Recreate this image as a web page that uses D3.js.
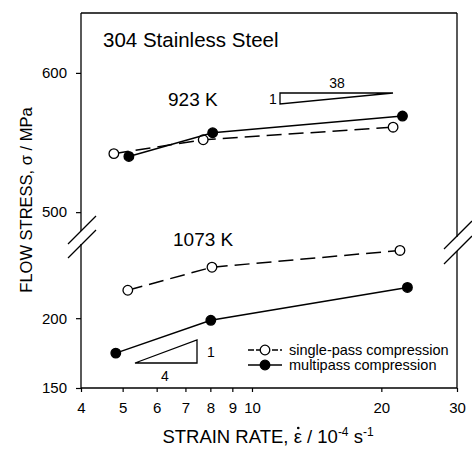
<!DOCTYPE html>
<html><head><meta charset="utf-8">
<script src="https://cdn.jsdelivr.net/npm/d3@7"></script>
<style>body{margin:0;background:#fff}svg{display:block}text{font-family:"Liberation Sans",Arial,sans-serif;fill:#000}</style>
</head><body>
<script>
// Data
const strainRate923Single = [4.77, 7.7, 21.3];
const stress923Single = [542, 552, 561];
const strainRate923Multi = [5.17, 8.1, 22.4];
const stress923Multi = [540, 557, 569];
const strainRate1073Single = [5.14, 8.07, 22.1];
const stress1073Single = [220, 236.5, 248.5];
const strainRate1073Multi = [4.82, 8.02, 23.0];
const stress1073Multi = [175, 198.5, 222];
const xTicks = [4, 5, 6, 7, 8, 9, 10, 20, 30];
const xTickLabels = ["4", "5", "6", "7", "8", "9", "10", "20", "30"];
const yTicks = [150, 200, 500, 600];
const legendLabels = ["single-pass compression", "multipass compression"];

const W = 472, H = 454;
const L = 81, R = 457, T = 13, B = 388, BRK = 240;
const FONT = '"Liberation Sans",Arial,sans-serif';
const svg = d3.select("body").append("svg").attr("width", W).attr("height", H);

const x = d3.scaleLog().domain([4, 30]).range([L, R]);
const y = d3.scaleLinear().domain([150, 256, 480, 643]).range([B, BRK, BRK, T]);

// frame
const g = svg.append("g").attr("stroke", "#000").attr("stroke-width", 1.3).attr("fill", "none");
g.append("line").attr("x1", L).attr("x2", R).attr("y1", T).attr("y2", T);
g.append("line").attr("x1", L).attr("x2", R).attr("y1", B).attr("y2", B);
g.append("line").attr("x1", L).attr("x2", L).attr("y1", T).attr("y2", 231);
g.append("line").attr("x1", L).attr("x2", L).attr("y1", 244).attr("y2", B);
g.append("line").attr("x1", R).attr("x2", R).attr("y1", T).attr("y2", 237);
g.append("line").attr("x1", R).attr("x2", R).attr("y1", 251).attr("y2", B);
// break marks
g.append("line").attr("x1", 68).attr("y1", 244).attr("x2", 96).attr("y2", 216);
g.append("line").attr("x1", 68).attr("y1", 258).attr("x2", 96).attr("y2", 230);
g.append("line").attr("x1", 444).attr("y1", 249).attr("x2", 472).attr("y2", 221);
g.append("line").attr("x1", 444).attr("y1", 264).attr("x2", 472).attr("y2", 236);

// x axis
const xAxis = d3.axisBottom(x).tickValues(xTicks)
  .tickFormat((d, i) => xTickLabels[i]).tickSize(4).tickPadding(10);
const xa = svg.append("g").attr("transform", `translate(0,${B})`).call(xAxis);
xa.select(".domain").remove();
xa.selectAll("line").attr("stroke-width", 1.2);
xa.selectAll("text").style("font-size", "15px").style("font-family", FONT);

// y axis
const yAxis = d3.axisLeft(y).tickValues(yTicks).tickSize(5).tickPadding(9);
const ya = svg.append("g").attr("transform", `translate(${L},0)`).call(yAxis);
ya.select(".domain").remove();
ya.selectAll("line").attr("stroke-width", 1.2);
ya.selectAll("text").style("font-size", "15px").style("font-family", FONT);

// axis titles
const xt = svg.append("text").attr("x", 268).attr("y", 443).attr("text-anchor", "middle").style("font-size", "18.5px");
xt.append("tspan").text("STRAIN RATE, ");
const eps = xt.append("tspan").text("\u03B5");
xt.append("tspan").text(" / 10");
xt.append("tspan").attr("dy", -7).style("font-size", "12px").text("-4");
xt.append("tspan").attr("dy", 7).text(" s");
xt.append("tspan").attr("dy", -7).style("font-size", "12px").text("-1");
// dot accent above epsilon
const epsIdx = "STRAIN RATE, ".length;
const n = xt.node();
const p0 = n.getStartPositionOfChar(epsIdx), p1 = n.getEndPositionOfChar(epsIdx);
svg.append("circle").attr("cx", (p0.x + p1.x) / 2 + 0.5).attr("cy", 443 - 15).attr("r", 1.3).attr("fill", "#000");

svg.append("text").attr("transform", "translate(32,200) rotate(-90)").attr("text-anchor", "middle")
  .style("font-size", "16.5px").text("FLOW STRESS, \u03C3 / MPa");

// series
const series = [
  {xs: strainRate923Single, ys: stress923Single, open: true},
  {xs: strainRate923Multi, ys: stress923Multi, open: false},
  {xs: strainRate1073Single, ys: stress1073Single, open: true},
  {xs: strainRate1073Multi, ys: stress1073Multi, open: false}
];
const line = d3.line().x(d => x(d[0])).y(d => y(d[1]));
series.forEach(s => {
  const pts = s.xs.map((v, i) => [v, s.ys[i]]);
  svg.append("path").attr("d", line(pts)).attr("fill", "none").attr("stroke", "#000")
    .attr("stroke-width", 1.5).attr("stroke-dasharray", s.open ? "15,7" : null);
  svg.selectAll(null).data(pts).enter().append("circle")
    .attr("cx", d => x(d[0])).attr("cy", d => y(d[1])).attr("r", 4.8)
    .attr("fill", s.open ? "#fff" : "#000").attr("stroke", "#000").attr("stroke-width", 1.3);
});

// annotations
svg.append("text").attr("x", 103).attr("y", 47).style("font-size", "20.5px").text("304 Stainless Steel");
svg.append("text").attr("x", 168).attr("y", 106).style("font-size", "19px").text("923 K");
svg.append("text").attr("x", 173).attr("y", 246).style("font-size", "19px").text("1073 K");

// slope triangles
svg.append("path").attr("d", "M280,93 L393,93 L280,104 Z").attr("fill", "none").attr("stroke", "#000").attr("stroke-width", 1.3);
svg.append("text").attr("x", 337).attr("y", 88).attr("text-anchor", "middle").style("font-size", "14px").text("38");
svg.append("text").attr("x", 273).attr("y", 104).attr("text-anchor", "middle").style("font-size", "14px").text("1");
svg.append("path").attr("d", "M135,363 L197,363 L197,340 Z").attr("fill", "none").attr("stroke", "#000").attr("stroke-width", 1.3);
svg.append("text").attr("x", 211).attr("y", 357).attr("text-anchor", "middle").style("font-size", "14px").text("1");
svg.append("text").attr("x", 165).attr("y", 381).attr("text-anchor", "middle").style("font-size", "14px").text("4");

// legend
legendLabels.forEach((lab, i) => {
  const ly = 350 + i * 15;
  svg.append("line").attr("x1", 248).attr("x2", 282).attr("y1", ly).attr("y2", ly)
    .attr("stroke", "#000").attr("stroke-width", 1.5).attr("stroke-dasharray", i === 0 ? "6,2" : null);
  svg.append("circle").attr("cx", 265).attr("cy", ly).attr("r", 4.8)
    .attr("fill", i === 0 ? "#fff" : "#000").attr("stroke", "#000").attr("stroke-width", 1.3);
  svg.append("text").attr("x", 289).attr("y", ly + 5).style("font-size", "14.5px").text(lab);
});
</script>
</body></html>
